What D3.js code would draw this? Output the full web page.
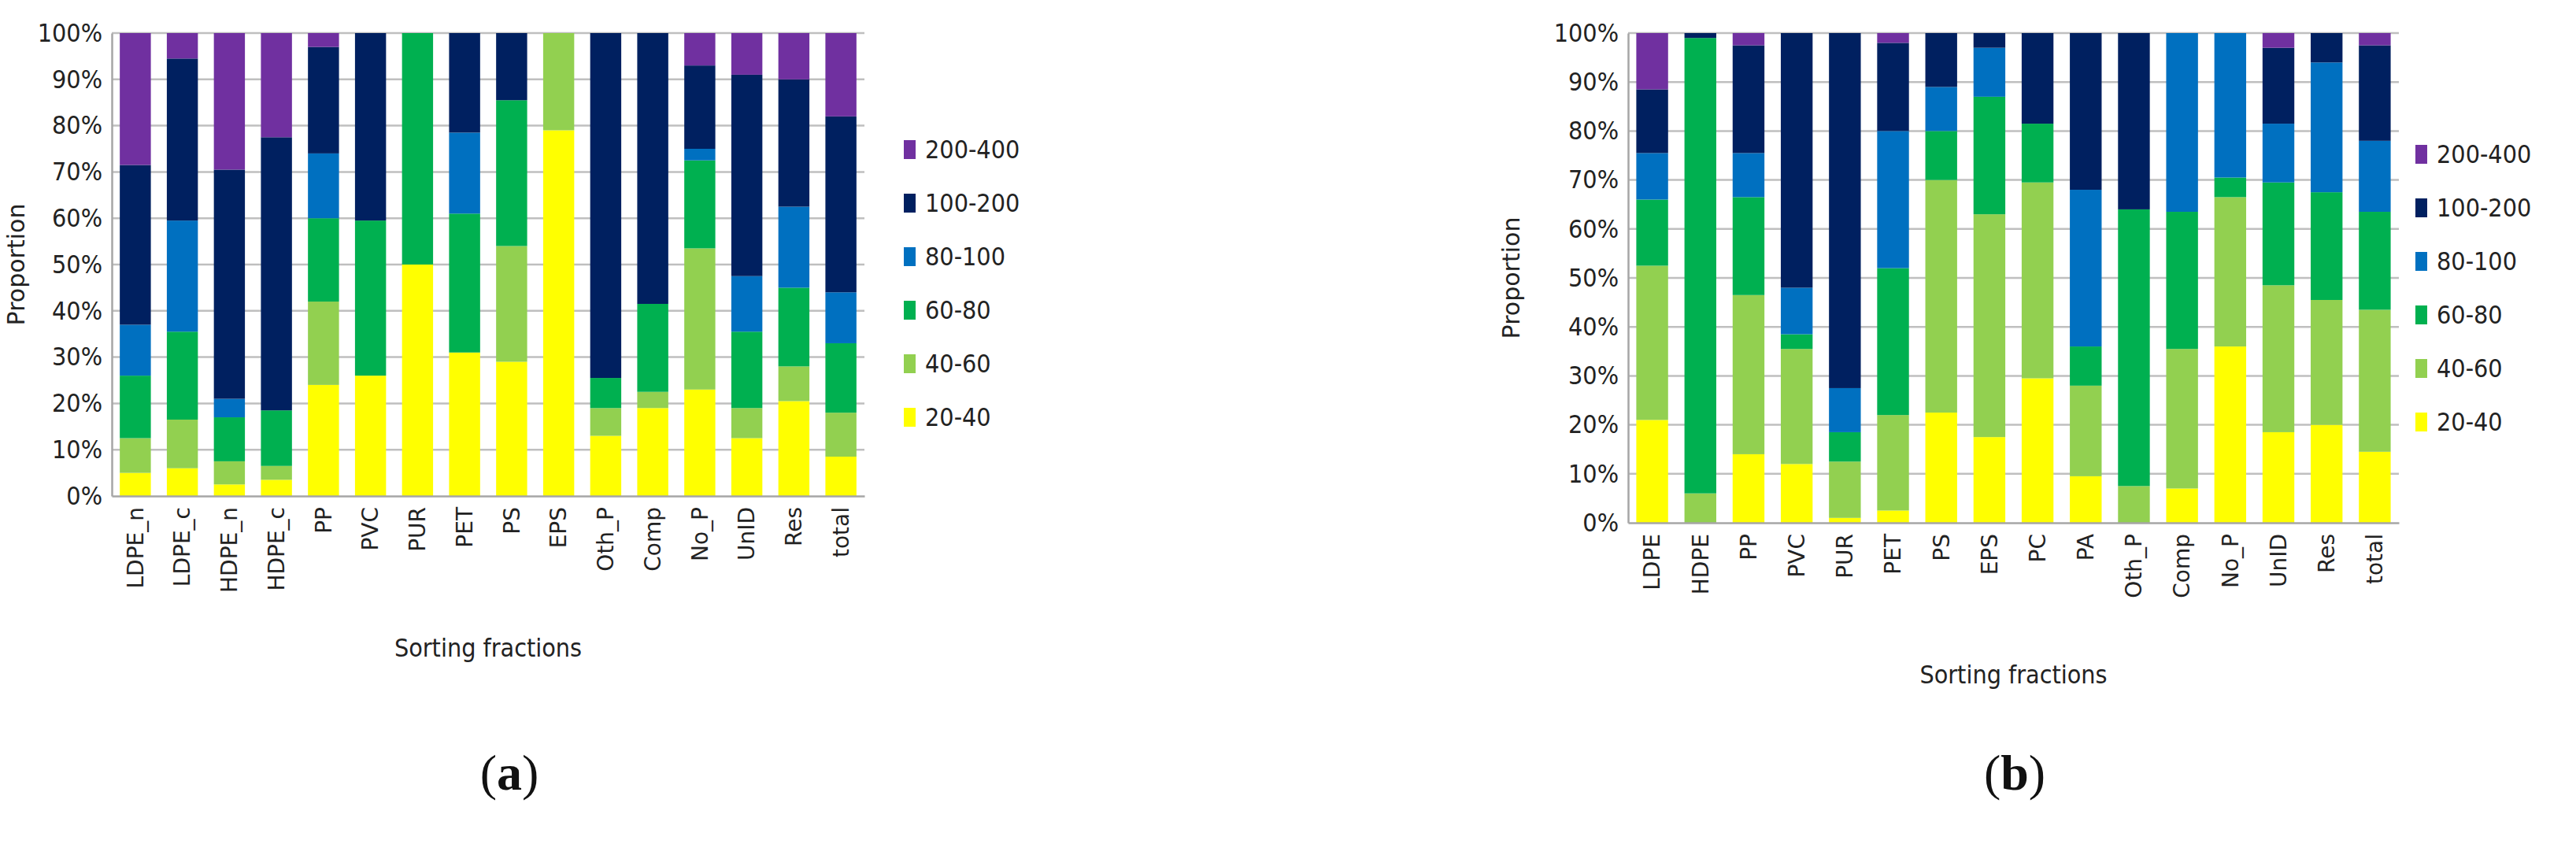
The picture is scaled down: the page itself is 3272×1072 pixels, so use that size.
<!DOCTYPE html>
<html><head><meta charset="utf-8">
<script src="https://cdn.jsdelivr.net/npm/d3@7"></script>
<style>body{margin:0;background:#fff}</style></head>
<body><svg id="c" width="3272" height="1072"></svg>
<script>
const seriesNames = ["20-40","40-60","60-80","80-100","100-200","200-400"];
const colors = ["#FFFF00","#92D050","#00B050","#0070C0","#002060","#7030A0"];
const yTicks = [0,0.1,0.2,0.3,0.4,0.5,0.6,0.7,0.8,0.9,1];

const catsA = ["LDPE_n","LDPE_c","HDPE_n","HDPE_c","PP","PVC","PUR","PET","PS","EPS","Oth_P","Comp","No_P","UnID","Res","total"];
const a_20_40  = [5,6,2.5,3.5,24,26,50,31,29,79,13,19,23,12.5,20.5,8.5];
const a_40_60  = [7.5,10.5,5,3,18,0,0,0,25,21,6,3.5,30.5,6.5,7.5,9.5];
const a_60_80  = [13.5,19,9.5,12,18,33.5,50,30,31.5,0,6.5,19,19,16.5,17,15];
const a_80_100 = [11,24,4,0,14,0,0,17.5,0,0,0,0,2.5,12,17.5,11];
const a_100_200= [34.5,35,49.5,59,23,40.5,0,21.5,14.5,0,74.5,58.5,18,43.5,27.5,38];
const a_200_400= [28.5,5.5,29.5,22.5,3,0,0,0,0,0,0,0,7,9,10,18];

const catsB = ["LDPE","HDPE","PP","PVC","PUR","PET","PS","EPS","PC","PA","Oth_P","Comp","No_P","UnID","Res","total"];
const b_20_40  = [21,0,14,12,1,2.5,22.5,17.5,29.5,9.5,0,7,36,18.5,20,14.5];
const b_40_60  = [31.5,6,32.5,23.5,11.5,19.5,47.5,45.5,40,18.5,7.5,28.5,30.5,30,25.5,29];
const b_60_80  = [13.5,93,20,3,6,30,10,24,12,8,56.5,28,4,21,22,20];
const b_80_100 = [9.5,0,9,9.5,9,28,9,10,0,32,0,36.5,29.5,12,26.5,14.5];
const b_100_200= [13,1,22,52,72.5,18,11,3,18.5,32,36,0,0,15.5,6,19.5];
const b_200_400= [11.5,0,2.5,0,0,2,0,0,0,0,0,0,0,3,0,2.5];

const svg = d3.select("#c");
const condensed = "'DejaVu Sans Condensed','DejaVu Sans',sans-serif";

function chart(cats, series, box, legendX, legendY, legendGap, labelTag, labelX, propOff) {
  const rows = cats.map((c,i)=>{const r={cat:c}; seriesNames.forEach((s,k)=>r[s]=series[k][i]/100); return r;});
  const stack = d3.stack().keys(seriesNames)(rows);
  const x = d3.scaleBand().domain(cats).range([box.l, box.r]).paddingInner(0.34).paddingOuter(0.17);
  const y = d3.scaleLinear().domain([0,1]).range([box.b, box.t]);
  const g = svg.append("g");
  g.append("g").selectAll("line").data(yTicks.slice(1)).join("line")
    .attr("x1",box.l).attr("x2",box.r).attr("y1",d=>y(d)).attr("y2",d=>y(d))
    .attr("stroke","#bfbfbf").attr("stroke-width",2.5);
  g.selectAll("g.s").data(stack).join("g").attr("fill",(d,i)=>colors[i])
    .selectAll("rect").data(d=>d).join("rect")
    .attr("x",d=>x(d.data.cat)).attr("width",x.bandwidth())
    .attr("y",d=>y(d[1])).attr("height",d=>Math.max(0,y(d[0])-y(d[1])));
  const ya = g.append("g").attr("transform",`translate(${box.l},0)`)
    .call(d3.axisLeft(y).tickValues(yTicks).tickFormat(d3.format(".0%")).tickSize(0).tickPadding(12));
  ya.select(".domain").attr("stroke","#a6a6a6").attr("stroke-width",2.5);
  ya.selectAll("text").attr("font-family",condensed).attr("font-size",32).attr("fill","#222");
  const xa = g.append("g").attr("transform",`translate(0,${box.b})`)
    .call(d3.axisBottom(x).tickSize(0).tickPadding(0));
  xa.select(".domain").attr("stroke","#a6a6a6").attr("stroke-width",2.5);
  xa.selectAll("text").attr("font-family","'DejaVu Sans',sans-serif").attr("font-size",28).attr("fill","#222")
    .attr("text-anchor","end").attr("dy","0.35em").attr("transform","translate(0,14) rotate(-90)").attr("y",0).attr("x",0);
  g.append("text").attr("transform",`translate(${box.l-propOff},${(box.t+box.b)/2}) rotate(-90)`)
    .attr("text-anchor","middle").attr("font-family","'DejaVu Sans',sans-serif").attr("font-size",30).attr("fill","#222").text("Proportion");
  g.append("text").attr("x",(box.l+box.r)/2).attr("y",box.b+204).attr("text-anchor","middle")
    .attr("font-family",condensed).attr("font-size",32).attr("fill","#222").text("Sorting fractions");
  const leg = g.append("g").selectAll("g").data(seriesNames.slice().reverse()).join("g")
    .attr("transform",(d,i)=>`translate(${legendX},${legendY+i*legendGap})`);
  leg.append("rect").attr("x",0).attr("y",-12).attr("width",15).attr("height",24)
    .attr("fill",d=>colors[seriesNames.indexOf(d)]);
  leg.append("text").attr("x",27).attr("dy","0.35em").attr("font-family",condensed).attr("font-size",32).attr("fill","#222").text(d=>d);
  const lt = svg.append("text").attr("x",labelX).attr("y",1003).attr("text-anchor","middle")
    .attr("font-family","'Liberation Serif',serif").attr("font-size",64).attr("fill","#111");
  lt.append("tspan").text("(");
  lt.append("tspan").attr("font-weight","bold").text(labelTag);
  lt.append("tspan").text(")");
}

chart(catsA,[a_20_40,a_40_60,a_60_80,a_80_100,a_100_200,a_200_400],{l:142,r:1098,t:42,b:630},1148,190,68,"a",647,111);
chart(catsB,[b_20_40,b_40_60,b_60_80,b_80_100,b_100_200,b_200_400],{l:2068,r:3047,t:42,b:664},3068,196,68,"b",2559,138);
</script></body></html>
